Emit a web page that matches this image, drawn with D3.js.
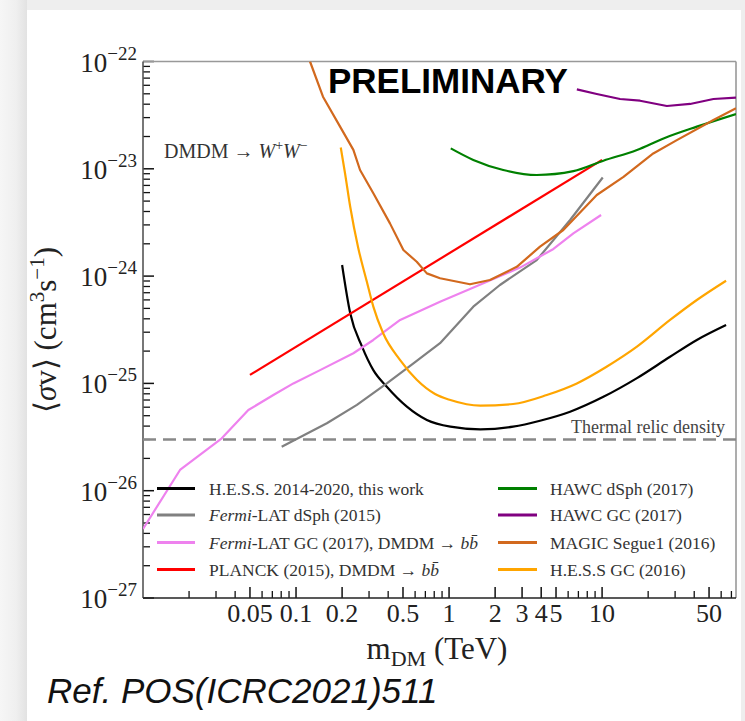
<!DOCTYPE html>
<html>
<head>
<meta charset="utf-8">
<script src="https://cdn.jsdelivr.net/npm/d3@7"></script>
<style>
  html, body { margin: 0; padding: 0; background: #f0f0f0; }
  svg { display: block; }
</style>
</head>
<body>
<svg id="chart" width="745" height="721"></svg>
<script>
// ---- Upper limits on <sigma v> versus dark matter mass (TeV) ----
const hessMass   = [0.2, 0.226, 0.27, 0.32, 0.392, 0.53, 0.716, 1.02, 1.6, 2.62, 3.93, 6.18, 10.2, 16.9, 27.8, 41.6, 64.6];
const hessSigma  = [1.27e-24, 4.5e-25, 2.2e-25, 1.33e-25, 9.3e-26, 6.07e-26, 4.56e-26, 3.95e-26, 3.73e-26, 3.95e-26, 4.49e-26, 5.45e-26, 7.5e-26, 1.12e-25, 1.77e-25, 2.54e-25, 3.5e-25];

const fermiDsphMass  = [0.0806, 0.159, 0.25, 0.392, 0.585, 0.873, 1.44, 2.15, 3.74, 6.18, 10.1];
const fermiDsphSigma = [2.57e-26, 4.25e-26, 6.3e-26, 1.0e-25, 1.54e-25, 2.37e-25, 5.19e-25, 8.26e-25, 1.41e-24, 3.33e-24, 8.3e-24];

const fermiGcMass  = [0.01, 0.01745, 0.0327, 0.0488, 0.0711, 0.0961, 0.1436, 0.237, 0.32, 0.479, 0.873, 1.37, 2.91, 4.81, 6.49, 9.85];
const fermiGcSigma = [4.4e-27, 1.56e-26, 3.08e-26, 5.65e-26, 7.8e-26, 1.0e-25, 1.33e-25, 1.91e-25, 2.54e-25, 3.9e-25, 5.77e-25, 7.58e-25, 1.2e-24, 1.79e-24, 2.5e-24, 3.71e-24];

const planckMass  = [0.05, 10];
const planckSigma = [1.2e-25, 1.21e-23];

const hawcDsphMass  = [1.026, 1.44, 2.26, 3.74, 6.49, 10.2, 16.9, 25.2, 41.6, 75];
const hawcDsphSigma = [1.55e-23, 1.21e-23, 9.75e-24, 8.75e-24, 9.5e-24, 1.19e-23, 1.5e-23, 1.92e-23, 2.47e-23, 3.24e-23];

const hawcGcMass  = [6.84, 9.23, 13.1, 17.7, 26.5, 37.6, 53.4, 75];
const hawcGcSigma = [5.5e-23, 4.98e-23, 4.47e-23, 4.31e-23, 3.85e-23, 4.02e-23, 4.47e-23, 4.6e-23];

const magicMass  = [0.1234, 0.150, 0.194, 0.237, 0.262, 0.32, 0.411, 0.503, 0.615, 0.716, 0.873, 1.37, 1.85, 2.77, 3.93, 5.58, 9.23, 13.8, 21.6, 30.8, 53.4, 75];
const magicSigma = [1.0e-22, 4.7e-23, 2.47e-23, 1.5e-23, 9.75e-24, 5.91e-24, 3.1e-24, 1.75e-24, 1.36e-24, 1.06e-24, 9.55e-25, 8.39e-25, 9.2e-25, 1.22e-24, 1.88e-24, 2.69e-24, 5.7e-24, 8.4e-24, 1.39e-23, 1.85e-23, 2.85e-23, 3.66e-23];

const hessGcMass  = [0.196, 0.209, 0.226, 0.255, 0.29, 0.32, 0.371, 0.479, 0.615, 0.81, 1.02, 1.6, 2.62, 4.35, 6.84, 10.7, 16.9, 27.8, 41.6, 64.6];
const hessGcSigma = [1.58e-23, 9.1e-24, 4.43e-24, 1.83e-24, 8.9e-25, 5.19e-25, 2.93e-25, 1.65e-25, 1.08e-25, 7.96e-26, 7.0e-26, 6.2e-26, 6.43e-26, 7.8e-26, 1.0e-25, 1.43e-25, 2.2e-25, 3.9e-25, 5.99e-25, 9.06e-25];

const thermalRelic = 3e-26;

const massDomain  = [0.01, 75];
const sigmaDomain = [1e-27, 1e-22];
const xTickLabels = [0.05, 0.1, 0.2, 0.5, 1, 2, 3, 4, 5, 10, 50];
const yTickDecades = [-27, -26, -25, -24, -23, -22];

// ---- layout ----
const svg = d3.select("#chart");
const W = 745, H = 721;
const plot = { left: 143, right: 736, top: 61.5, bottom: 598 };
const serif = "'Liberation Serif', 'Times New Roman', serif";

const x = d3.scaleLog().domain(massDomain).range([plot.left, plot.right]);
const y = d3.scaleLog().domain(sigmaDomain).range([plot.bottom, plot.top]);

// page backdrop and white card
const defs = svg.append("defs");
const shade = defs.append("linearGradient").attr("id", "leftShade").attr("x1", 0).attr("x2", 1).attr("y1", 0).attr("y2", 0);
shade.append("stop").attr("offset", "0%").attr("stop-color", "#f6f6f6");
shade.append("stop").attr("offset", "60%").attr("stop-color", "#efefef");
shade.append("stop").attr("offset", "100%").attr("stop-color", "#e2e2e2");
svg.append("rect").attr("width", W).attr("height", H).attr("fill", "#eeeeee");
svg.append("rect").attr("x", 0).attr("y", 0).attr("width", 27).attr("height", H).attr("fill", "url(#leftShade)");
svg.append("rect").attr("x", 27).attr("y", 10).attr("width", 714).attr("height", H - 10).attr("fill", "#ffffff");

defs.append("clipPath").attr("id", "plotClip")
  .append("rect").attr("x", plot.left).attr("y", plot.top)
  .attr("width", plot.right - plot.left).attr("height", plot.bottom - plot.top);

// rich text helper: parts = [{t, italic, shift, size}]
function rich(sel, parts, baseSize) {
  let cur = 0;
  parts.forEach(p => {
    const shift = p.shift || 0;
    const ts = sel.append("tspan").text(p.t)
      .attr("font-size", p.size || baseSize);
    if (shift - cur !== 0) ts.attr("dy", shift - cur);
    if (p.italic) ts.attr("font-style", "italic");
    cur = shift;
  });
}

// ---- axes: ticks inside the frame ----
const axisG = svg.append("g");
// y ticks (left side, pointing right)
const yMinor = [];
yTickDecades.slice(0, -1).forEach(e => { for (let k = 2; k <= 9; k++) yMinor.push(k * Math.pow(10, e)); });
axisG.selectAll(".ymaj").data(yTickDecades.map(e => Math.pow(10, e))).join("line")
  .attr("x1", plot.left).attr("x2", plot.left + 11)
  .attr("y1", d => y(d)).attr("y2", d => y(d))
  .attr("stroke", "#111").attr("stroke-width", 1.5);
axisG.selectAll(".ymin").data(yMinor).join("line")
  .attr("x1", plot.left).attr("x2", plot.left + 7)
  .attr("y1", d => y(d)).attr("y2", d => y(d))
  .attr("stroke", "#111").attr("stroke-width", 1.3);

yTickDecades.forEach(e => {
  const t = axisG.append("text")
    .attr("x", 137).attr("y", y(Math.pow(10, e)) + 10)
    .attr("text-anchor", "end")
    .attr("font-family", serif).attr("fill", "#222");
  rich(t, [{ t: "10" }, { t: "\u2212" + Math.abs(e), size: 19, shift: -12 }], 27);
});

// x ticks (bottom, pointing up)
const xMinor = [];
[0.01, 0.1, 1, 10].forEach(dec => { for (let k = 2; k <= 9; k++) { const v = +(k * dec).toPrecision(3); if (v <= massDomain[1] && !xTickLabels.includes(v)) xMinor.push(v); } });
axisG.selectAll(".xmaj").data(xTickLabels).join("line")
  .attr("x1", d => x(d)).attr("x2", d => x(d))
  .attr("y1", plot.bottom).attr("y2", plot.bottom - 11)
  .attr("stroke", "#111").attr("stroke-width", 1.5);
axisG.selectAll(".xmin").data(xMinor).join("line")
  .attr("x1", d => x(d)).attr("x2", d => x(d))
  .attr("y1", plot.bottom).attr("y2", plot.bottom - 7)
  .attr("stroke", "#111").attr("stroke-width", 1.3);
axisG.selectAll(".xlab").data(xTickLabels).join("text")
  .attr("x", d => x(d)).attr("y", plot.bottom + 24)
  .attr("text-anchor", "middle")
  .attr("font-family", serif).attr("font-size", 26).attr("fill", "#222")
  .text(d => String(d));

// frame
svg.append("line").attr("x1", plot.left).attr("x2", plot.right).attr("y1", plot.top).attr("y2", plot.top).attr("stroke", "#999").attr("stroke-width", 1.6);
svg.append("line").attr("x1", plot.right).attr("x2", plot.right).attr("y1", plot.top).attr("y2", plot.bottom).attr("stroke", "#999").attr("stroke-width", 1.6);
svg.append("line").attr("x1", plot.left).attr("x2", plot.left).attr("y1", plot.top).attr("y2", plot.bottom).attr("stroke", "#555").attr("stroke-width", 1.6);
svg.append("line").attr("x1", plot.left).attr("x2", plot.right).attr("y1", plot.bottom).attr("y2", plot.bottom).attr("stroke", "#222").attr("stroke-width", 1.6);

// axis titles
const xt = svg.append("text").attr("x", 437).attr("y", 659).attr("text-anchor", "middle")
  .attr("font-family", serif).attr("fill", "#222");
rich(xt, [{ t: "m" }, { t: "DM", size: 22, shift: 7 }, { t: " (TeV)", shift: 0 }], 31);

const yt = svg.append("text").attr("transform", "translate(56,330) rotate(-90)")
  .attr("text-anchor", "middle").attr("font-family", serif).attr("fill", "#222");
rich(yt, [{ t: "\u27E8" }, { t: "\u03C3", italic: true }, { t: "v\u27E9 (cm" }, { t: "3", size: 21, shift: -12 }, { t: "s", shift: 0 }, { t: "\u22121", size: 21, shift: -12 }, { t: ")", shift: 0 }], 31);

// ---- curves ----
const series = [
  { name: "hess",      mass: hessMass,      sigma: hessSigma,      color: "#000000", curve: d3.curveMonotoneX },
  { name: "fermiDsph", mass: fermiDsphMass, sigma: fermiDsphSigma, color: "#808080", curve: d3.curveLinear },
  { name: "fermiGc",   mass: fermiGcMass,   sigma: fermiGcSigma,   color: "#ee82ee", curve: d3.curveLinear },
  { name: "planck",    mass: planckMass,    sigma: planckSigma,    color: "#ff0000", curve: d3.curveLinear },
  { name: "hawcDsph",  mass: hawcDsphMass,  sigma: hawcDsphSigma,  color: "#008000", curve: d3.curveMonotoneX },
  { name: "hawcGc",    mass: hawcGcMass,    sigma: hawcGcSigma,    color: "#800080", curve: d3.curveLinear },
  { name: "magic",     mass: magicMass,     sigma: magicSigma,     color: "#d2691e", curve: d3.curveLinear },
  { name: "hessGc",    mass: hessGcMass,    sigma: hessGcSigma,    color: "#ffa500", curve: d3.curveMonotoneX }
];

const lines = svg.append("g").attr("clip-path", "url(#plotClip)");

// thermal relic density reference
lines.append("line")
  .attr("x1", plot.left).attr("x2", plot.right)
  .attr("y1", y(thermalRelic)).attr("y2", y(thermalRelic))
  .attr("stroke", "#888").attr("stroke-width", 2.4).attr("stroke-dasharray", "13,7");

series.forEach(s => {
  const pts = s.mass.map((m, i) => [m, s.sigma[i]]);
  lines.append("path").datum(pts)
    .attr("fill", "none").attr("stroke", s.color).attr("stroke-width", 2.2)
    .attr("stroke-linejoin", "round")
    .attr("d", d3.line().x(d => x(d[0])).y(d => y(d[1])).curve(s.curve));
});

// ---- annotations ----
svg.append("text").attr("x", 328).attr("y", 93)
  .attr("font-family", "'Liberation Sans', Arial, sans-serif").attr("font-weight", "bold")
  .attr("font-size", 35).attr("fill", "#000").text("PRELIMINARY");

const ann = svg.append("text").attr("x", 164).attr("y", 158)
  .attr("font-family", serif).attr("fill", "#333");
rich(ann, [{ t: "DMDM \u2192 " }, { t: "W", italic: true }, { t: "+", size: 14, shift: -8 }, { t: "W", italic: true, shift: 0 }, { t: "\u2212", size: 14, shift: -8 }], 20);

svg.append("text").attr("x", 725).attr("y", 433).attr("text-anchor", "end")
  .attr("font-family", serif).attr("font-size", 18).attr("fill", "#444")
  .text("Thermal relic density");

// ---- legend ----
const legendItems = [
  { col: 0, row: 0, color: "#000000", parts: [{ t: "H.E.S.S. 2014-2020, this work" }] },
  { col: 0, row: 1, color: "#808080", parts: [{ t: "Fermi", italic: true }, { t: "-LAT dSph (2015)" }] },
  { col: 0, row: 2, color: "#ee82ee", parts: [{ t: "Fermi", italic: true }, { t: "-LAT GC (2017), DMDM \u2192 " }, { t: "b", italic: true }, { t: "b\u0304", italic: true }] },
  { col: 0, row: 3, color: "#ff0000", parts: [{ t: "PLANCK (2015), DMDM \u2192 " }, { t: "b", italic: true }, { t: "b\u0304", italic: true }] },
  { col: 1, row: 0, color: "#008000", parts: [{ t: "HAWC dSph (2017)" }] },
  { col: 1, row: 1, color: "#800080", parts: [{ t: "HAWC GC (2017)" }] },
  { col: 1, row: 2, color: "#d2691e", parts: [{ t: "MAGIC Segue1 (2016)" }] },
  { col: 1, row: 3, color: "#ffa500", parts: [{ t: "H.E.S.S GC (2016)" }] }
];
const legCols = [{ x0: 157, x1: 195, tx: 209 }, { x0: 498, x1: 537, tx: 550 }];
const legRows = [488.5, 515, 542.5, 569.5];
const leg = svg.append("g");
legendItems.forEach(it => {
  const c = legCols[it.col], yy = legRows[it.row];
  leg.append("line").attr("x1", c.x0).attr("x2", c.x1).attr("y1", yy).attr("y2", yy)
    .attr("stroke", it.color).attr("stroke-width", 3);
  const t = leg.append("text").attr("x", c.tx).attr("y", yy + 6)
    .attr("font-family", serif).attr("fill", "#333");
  rich(t, it.parts, 17.5);
});

// reference note
svg.append("text").attr("x", 47).attr("y", 703)
  .attr("font-family", "'Liberation Sans', Arial, sans-serif").attr("font-style", "italic")
  .attr("font-size", 35).attr("fill", "#111")
  .text("Ref. POS(ICRC2021)511");
</script>
</body>
</html>
